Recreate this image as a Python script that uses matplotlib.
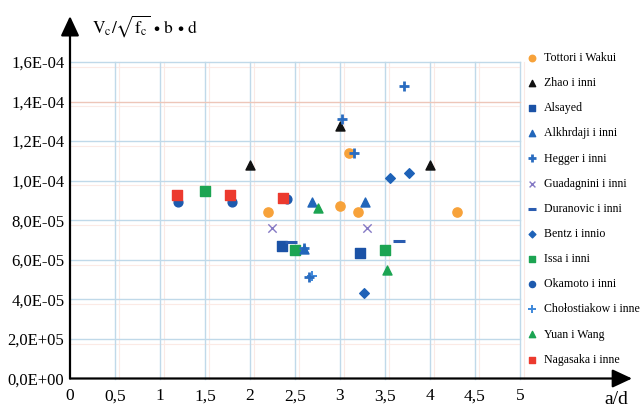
import matplotlib
matplotlib.use("Agg")
import matplotlib.pyplot as plt
from matplotlib.patches import ArrowStyle

plt.rcParams['font.family'] = ['Liberation Serif', 'DejaVu Serif']
plt.rcParams['mathtext.fontset'] = 'stix'

# ---------------- data ----------------
series_names = ["Tottori i Wakui", "Zhao i inni", "Alsayed", "Alkhrdaji i inni",
                "Hegger i inni", "Guadagnini i inni", "Duranovic i inni",
                "Bentz i innio", "Issa i inni", "Okamoto i inni",
                "Chołostiakow i inne", "Yuan i Wang", "Nagasaka i inne"]

tottori_x = [2.2, 3.0, 3.1, 3.2, 4.3]
tottori_y = [8.4e-5, 8.7e-5, 1.14e-4, 8.4e-5, 8.4e-5]
zhao_x = [2.0, 3.0, 4.0]
zhao_y = [1.08e-4, 1.275e-4, 1.08e-4]
alsayed_x = [2.36, 3.22]
alsayed_y = [6.7e-5, 6.35e-5]
alkhrdaji_x = [2.69, 3.28, 2.6]
alkhrdaji_y = [8.9e-5, 8.9e-5, 6.55e-5]
hegger_x = [3.02, 3.16, 3.71, 2.6, 2.65]
hegger_y = [1.31e-4, 1.14e-4, 1.48e-4, 6.6e-5, 5.15e-5]
guadagnini_x = [2.24, 3.3]
guadagnini_y = [7.6e-5, 7.6e-5]
duranovic_x = [2.46, 3.66]
duranovic_y = [6.9e-5, 6.95e-5]
bentz_x = [3.56, 3.77, 3.27]
bentz_y = [1.015e-4, 1.04e-4, 4.3e-5]
issa_x = [1.5, 2.5, 3.5]
issa_y = [9.5e-5, 6.5e-5, 6.5e-5]
okamoto_x = [1.2, 1.8, 2.41]
okamoto_y = [8.9e-5, 8.9e-5, 9.05e-5]
cholostiakow_x = [2.69]
cholostiakow_y = [5.18e-5]
yuan_x = [2.75, 3.52]
yuan_y = [8.6e-5, 5.5e-5]
nagasaka_x = [1.19, 1.78, 2.37]
nagasaka_y = [9.3e-5, 9.3e-5, 9.15e-5]

x_ticks = [0, 0.5, 1, 1.5, 2, 2.5, 3, 3.5, 4, 4.5, 5]
x_tick_labels = ["0", "0,5", "1", "1,5", "2", "2,5", "3", "3,5", "4", "4,5", "5"]
y_ticks = [0, 2e-5, 4e-5, 6e-5, 8e-5, 1e-4, 1.2e-4, 1.4e-4, 1.6e-4]
y_tick_labels = ["0,0E+00", "2,0E+05", "4,0E-05", "6,0E-05", "8,0E-05",
                 "1,0E-04", "1,2E-04", "1,4E-04", "1,6E-04"]

# ---------------- styles ----------------
styles = [
    dict(marker='o', color='#F7A23A', s=44, zorder=3),
    dict(marker='^', color='#111111', s=42, zorder=3),
    dict(marker='s', color='#1B52A6', s=42, zorder=3),
    dict(marker='^', color='#2266BA', s=42, zorder=3.2),
    dict(marker='+', color='#2A6CC0', s=60, linewidths=2.0, zorder=3.1),
    dict(marker='x', color='#8479C4', s=36, linewidths=1.0, zorder=3),
    dict(marker='_', color='#2A5CB0', s=70, linewidths=2.2, zorder=3),
    dict(marker='D', color='#1E62B8', s=24, zorder=3),
    dict(marker='s', color='#1CA452', s=42, zorder=3),
    dict(marker='o', color='#1D5AAE', s=40, zorder=3),
    dict(marker='+', color='#3E88DA', s=55, linewidths=1.4, zorder=3),
    dict(marker='^', color='#1CA452', s=42, zorder=3.3),
    dict(marker='s', color='#EC3A2E', s=42, zorder=3.3),
]
data = [(tottori_x, tottori_y), (zhao_x, zhao_y), (alsayed_x, alsayed_y),
        (alkhrdaji_x, alkhrdaji_y), (hegger_x, hegger_y),
        (guadagnini_x, guadagnini_y), (duranovic_x, duranovic_y),
        (bentz_x, bentz_y), (issa_x, issa_y), (okamoto_x, okamoto_y),
        (cholostiakow_x, cholostiakow_y), (yuan_x, yuan_y),
        (nagasaka_x, nagasaka_y)]

W, H = 643, 409
fig = plt.figure(figsize=(W / 100, H / 100), dpi=100)
L, R, B, T = 70, 520, 378.5, 62
ax = fig.add_axes([L / W, (H - B) / H, (R - L) / W, (B - T) / H])
ax.set_xlim(0, 5)
ax.set_ylim(0, 1.6e-4)

# grid
grid_blue = '#C0D9E9'
grid_pink = '#FBEAE5'
for xv in x_ticks[1:]:
    ax.axvline(xv + 0.045, color=grid_pink, lw=0.8, zorder=0, clip_on=False)
    ax.axvline(xv, color=grid_blue, lw=1.0, zorder=0.5, clip_on=False)
for yv in y_ticks[1:]:
    ax.axhline(yv - 0.24e-5, color=grid_pink, lw=0.8, zorder=0, clip_on=False)
    c = '#EDC6B9' if abs(yv - 1.4e-4) < 1e-9 else grid_blue
    ax.axhline(yv, color=c, lw=1.0, zorder=0.5, clip_on=False)

for name, (xs, ys), st in zip(series_names, data, styles):
    ax.scatter(xs, ys, label=name, clip_on=False, **st)

for sp in ax.spines.values():
    sp.set_visible(False)

ax.set_xticks(x_ticks)
ax.set_xticklabels(x_tick_labels, fontsize=12.5)
ax.set_yticks(y_ticks)
ax.set_yticklabels(y_tick_labels, fontsize=12)
ax.tick_params(axis='x', length=0, pad=7)
ax.tick_params(axis='y', length=0, pad=4)

# axis arrows
arr = ArrowStyle('-|>', head_length=0.6, head_width=0.28)
ax.annotate('', xy=(0, 1.145), xytext=(0, 0), xycoords='axes fraction',
            arrowprops=dict(arrowstyle=arr, color='black', lw=1.6,
                            mutation_scale=20, shrinkA=0, shrinkB=0),
            annotation_clip=False)
ax.annotate('', xy=(1.249, 0), xytext=(0, 0), xycoords='axes fraction',
            arrowprops=dict(arrowstyle=arr, color='black', lw=1.6,
                            mutation_scale=20, shrinkA=0, shrinkB=0),
            annotation_clip=False)

fig.text(92 / W, 1 - 26 / H, r'$\mathrm{V_c/\sqrt{f_c}\,\bullet\,b\,\bullet\,d}$',
         fontsize=12.5, ha='left', va='center')
fig.text(604 / W, 1 - 400 / H, 'a/d', fontsize=14, ha='left', va='center')

leg = fig.legend(loc='upper left', bbox_to_anchor=(526 / W, 1 - 52 / H),
                 frameon=False, fontsize=8.6, handlelength=1.0,
                 handletextpad=0.5, labelspacing=1.1, borderpad=0,
                 borderaxespad=0, markerscale=0.7, scatterpoints=1)

fig.savefig('out.png', dpi=100)
